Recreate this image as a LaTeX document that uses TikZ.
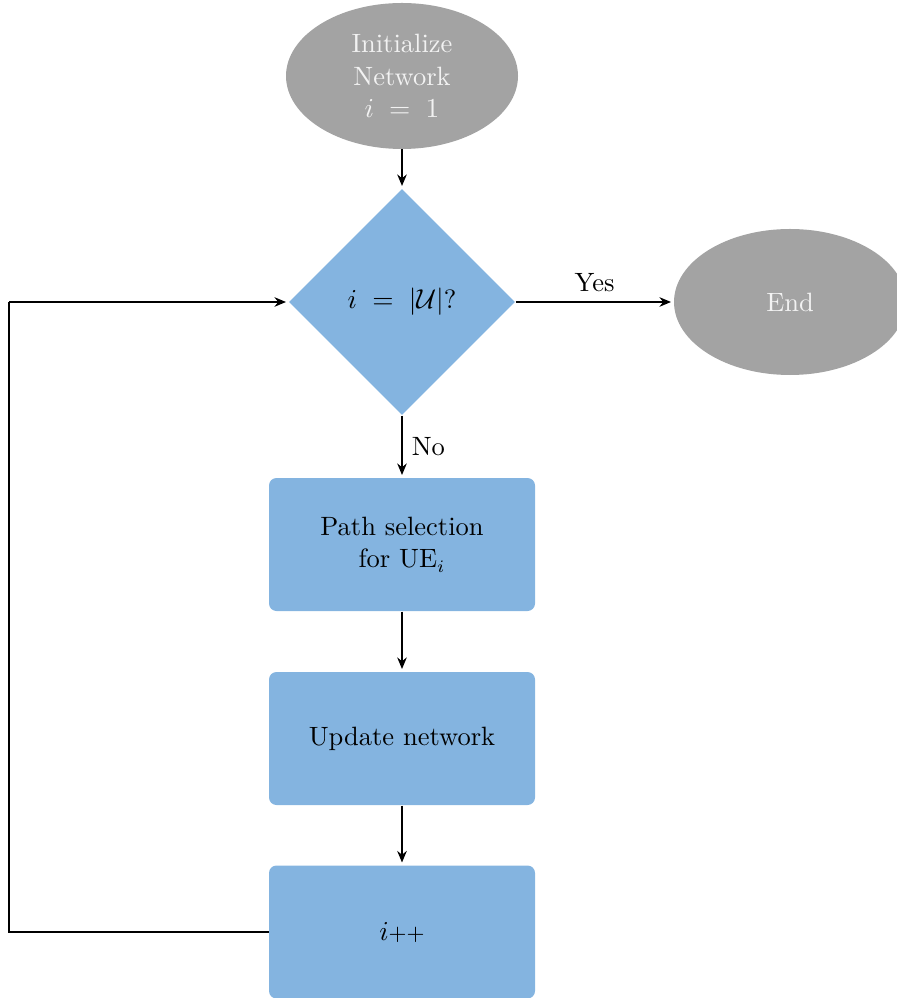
\documentclass[tikz,border=0pt]{standalone}
\usetikzlibrary{shapes.geometric,arrows.meta}
\definecolor{termgray}{HTML}{A3A3A3}
\definecolor{stepblue}{HTML}{84B4E0}
\definecolor{termtext}{HTML}{F2F2F2}
\tikzset{
  every node/.style={font=\fontsize{10.6pt}{13pt}\selectfont},
  terminal/.style={ellipse,fill=termgray,text=termtext,minimum width=92.8pt,minimum height=58.4pt,inner sep=0pt,align=center},
  decision/.style={diamond,fill=stepblue,minimum width=90.4pt,minimum height=90.4pt,inner sep=0pt,shape aspect=1},
  process/.style={rectangle,rounded corners=3pt,fill=stepblue,minimum width=106.4pt,minimum height=53.2pt,inner sep=0pt,align=center},
  flow/.style={line width=1.15pt,-{Stealth[length=4.6pt,width=3.8pt]},shorten >=1pt},
  link/.style={line width=1.15pt}
}
\begin{document}
\begin{tikzpicture}[x=0.4pt,y=-0.4pt]
  \useasboundingbox (0,0) rectangle (897,998);
  \node[terminal] (init) at (402,76) {Initialize\\Network\\$i\;=\;1$};
  \node[decision] (check) at (402,302) {$i\;=\;|\mathcal{U}|$?};
  \node[terminal] (finish) at (790,302) {End};
  \node[process] (select) at (402,544.5) {Path selection\\for UE$_i$};
  \node[process] (update) at (402,738.5) {Update network};
  \node[process] (incr) at (402,932) {$i${\small ++}};
  \coordinate (lowleft) at (9,932);
  \coordinate (upleft) at (9,302);

  \draw[flow] (init) -- (check);
  \draw[flow] (check) -- node[above,pos=0.5] {Yes} (finish);
  \draw[flow] (check) -- node[right,pos=0.5] {No} (select);
  \draw[flow] (select) -- (update);
  \draw[flow] (update) -- (incr);
  \draw[link] (incr.west) -- (lowleft) -- (upleft);
  \draw[flow] (upleft) -- (check.west);
\end{tikzpicture}
\end{document}
